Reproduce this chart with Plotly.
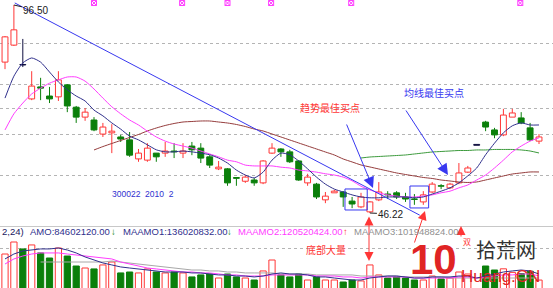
import plotly.graph_objects as go

W, H = 553, 288

# ---------------- data ----------------
idx = list(range(61))
opens = [82.7, 86.8, 82.1, 73.8, 76.7, 74.5, 74.3, 77.2, 71.8, 69.4,
         68.7, 65.3, 65.6, 64.6, 63.9, 59.3, 59.0, 60.7, 60.7, 61.2,
         60.7, 62.4, 61.9, 59.8, 56.9, 56.9, 54.8, 53.9, 54.2, 53.5,
         60.7, 61.7, 61.0, 58.8, 53.5, 53.2, 49.4, 51.1, 51.3, 49.1,
         47.7, 46.5, 49.4, 50.8, 51.1, 50.1, 49.6, 48.9, 51.3, 52.8,
         52.3, 53.5, 56.1, 62.8, 68.2, 66.3, 65.1, 69.4, 69.2, 66.8, 63.6]
highs = [89.0, 96.5, 88.3, 80.5, 78.9, 76.7, 80.5, 77.4, 72.1, 71.6,
         69.4, 68.0, 67.7, 65.1, 65.8, 61.7, 63.1, 60.7, 63.4, 63.1,
         63.1, 63.4, 63.1, 60.2, 58.8, 57.1, 54.8, 55.4, 54.7, 59.0,
         63.1, 61.9, 61.5, 59.0, 55.7, 53.5, 51.3, 51.8, 51.5, 50.1,
         51.1, 49.1, 53.7, 51.5, 51.5, 51.1, 50.8, 51.5, 53.7, 53.2,
         53.5, 58.3, 57.6, 62.8, 68.5, 66.8, 71.4, 71.4, 70.6, 68.0, 65.3]
lows = [81.0, 86.6, 81.5, 73.5, 73.5, 72.8, 73.3, 70.6, 68.0, 68.5,
        66.0, 64.6, 60.7, 63.4, 59.8, 58.6, 58.6, 58.6, 59.8, 59.5,
        59.5, 60.2, 58.3, 57.1, 56.6, 52.8, 52.8, 53.5, 52.8, 53.2,
        60.5, 59.8, 58.3, 54.0, 52.8, 49.6, 48.6, 51.1, 47.7, 47.4,
        47.4, 46.22, 49.1, 49.6, 49.6, 48.9, 48.2, 48.2, 51.1, 52.0,
        52.0, 53.2, 55.9, 62.6, 66.0, 64.3, 64.8, 69.4, 67.7, 63.6, 62.9]
closes = [88.8, 90.5, 82.0, 76.9, 76.4, 73.8, 78.4, 72.1, 69.4, 70.6,
          66.3, 67.0, 66.0, 64.1, 60.2, 60.7, 61.9, 59.8, 61.2, 61.0,
          61.2, 61.5, 59.5, 57.8, 57.3, 53.5, 54.6, 54.9, 53.5, 58.8,
          61.9, 61.0, 58.6, 54.2, 54.9, 50.1, 50.3, 51.5, 50.1, 48.4,
          50.1, 48.9, 51.3, 50.6, 50.1, 49.6, 49.5, 50.6, 53.2, 52.7,
          53.2, 55.9, 57.1, 62.6, 67.0, 65.1, 69.9, 70.4, 68.0, 63.9, 64.6]
dark_candles = [2, 53]

ma5 = [74.0, 79.3, 82.5, 83.7, 82.7, 80.3, 77.9, 76.0, 74.5, 73.3,
       71.1, 69.7, 68.0, 66.5, 64.8, 63.9, 62.7, 61.5, 61.0, 61.0,
       61.2, 61.0, 60.7, 60.3, 59.5, 58.3, 56.6, 55.4, 54.7, 56.1,
       59.0, 60.7, 60.3, 58.8, 56.9, 54.9, 53.2, 52.0, 51.3, 50.6,
       50.1, 49.9, 49.9, 50.1, 50.1, 50.1, 49.9, 50.1, 50.8, 51.5,
       52.3, 53.5, 55.2, 57.1, 60.3, 63.1, 65.6, 67.3, 68.0, 67.5, 67.5]
ma10 = [66.3, 70.2, 72.8, 75.0, 76.4, 77.6, 78.4, 79.1, 79.1, 78.1,
        76.2, 74.0, 71.9, 70.2, 68.7, 67.5, 66.0, 64.6, 63.6, 62.9,
        62.4, 61.9, 61.2, 60.5, 59.8, 59.0, 58.6, 57.8, 57.6, 57.6,
        57.6, 57.3, 57.1, 56.6, 56.4, 56.1, 55.7, 55.4, 54.9, 54.0,
        52.7, 51.8, 51.1, 50.6, 50.3, 50.1, 50.1, 50.3, 50.6, 51.1,
        51.5, 52.3, 53.0, 54.2, 55.4, 57.1, 59.0, 61.0, 62.4, 63.6, 64.4]
ma_long = [None] * 10 + [
    61.46, 62.28, 63.03, 63.75, 64.48, 65.20, 66.05, 66.77, 67.38, 67.86,
    68.22, 68.34, 68.46, 68.46, 68.22, 67.98, 67.62, 67.13, 66.53, 66.05,
    65.32, 64.60, 63.87, 63.15, 62.42, 61.70, 60.97, 60.25, 59.28, 58.56,
    57.83, 57.35, 56.86, 56.38, 55.90, 55.53, 55.17, 54.81, 54.57, 54.20,
    53.96, 53.72, 53.60, 53.72, 54.20, 54.69, 55.17, 55.65, 55.90, 56.14, 56.14]
ma_longer = [None] * 40 + [
    59.52, 59.76, 59.88, 60.00, 60.12, 60.25, 60.49, 60.73, 60.97, 61.09,
    61.21, 61.33, 61.33, 61.46, 61.46, 61.58, 61.58, 61.58, 61.46, 61.21, 60.73]

# turnover (million yuan)
amount = [306, 408, 349, 383, 315, 272, 357, 289, 204, 187,
          179, 213, 238, 145, 153, 145, 179, 153, 145, 153,
          145, 111, 128, 136, 102, 136, 111, 102, 85, 162,
          255, 128, 111, 136, 85, 111, 85, 85, 68, 85,
          77, 213, 128, 102, 111, 102, 85, 85, 119, 94,
          102, 153, 136, 0, 204, 170, 180, 150, 140, 160, 84.6]
maamo1 = [264, 306, 332, 340, 349, 349, 357, 340, 315, 281,
          255, 230, 213, 196, 187, 179, 170, 162, 153, 153,
          153, 145, 145, 136, 128, 128, 119, 119, 111, 119,
          136, 145, 136, 136, 128, 111, 111, 102, 94, 85,
          85, 102, 111, 119, 119, 111, 102, 102, 111, 111,
          111, 119, 119, 102, 119, 136, 153, 162, 170, 162, 136]
maamo2 = [221, 264, 289, 306, 315, 315, 315, 306, 298, 289,
          281, 272, 264, 238, 221, 204, 187, 179, 170, 162,
          153, 153, 145, 145, 136, 128, 128, 119, 119, 119,
          128, 128, 128, 128, 128, 119, 119, 119, 111, 111,
          102, 111, 111, 111, 111, 111, 102, 102, 102, 102,
          102, 111, 111, 102, 111, 119, 128, 128, 136, 136, 120.5]
maamo3 = [None] * 4 + [
    238, 238, 238, 238, 238, 238, 238, 238, 246, 238,
    230, 221, 213, 204, 196, 187, 179, 170, 170, 162,
    162, 153, 153, 145, 145, 145, 145, 136, 136, 136,
    136, 128, 128, 128, 128, 128, 119, 119, 119, 119,
    119, 111, 111, 111, 111, 111, 102, 102, 102, 102,
    102, 102, 102, 102, 102, 102, 101.9]

trend_x = [1.1, 46.6]
trend_y = [97.0, 45.7]
event_x = [10, 19.9, 25, 29.9, 38.9, 57.9]
event_y = [96.98] * 6
box1 = dict(x0=38.2, x1=40.7, y0=46.95, y1=52.03)
box2 = dict(x0=45.5, x1=47.6, y0=47.44, y1=52.75)

# ---------------- styles ----------------
RED = '#ff3636'
GREEN = '#0a7f0a'
NAVY = '#30308c'
MAG = '#ff3cff'
BROWN = '#953c3c'
LGREEN = '#3c9a3c'
BLUE = '#3838f0'
GRAY = '#a8a8a8'
LATIN = 'Liberation Sans, Arial, sans-serif'
CJK = 'Noto Sans CJK SC, sans-serif'


def px(x):
    return x / W


def py(y):
    return 1 - y / H


fig = go.Figure()

# wicks
wick = {'up': ([], []), 'down': ([], []), 'dark': ([], [])}
body = {'up': ([], [], []), 'down': ([], [], []), 'dark': ([], [], [])}
for i, o, h, l, c in zip(idx, opens, highs, lows, closes):
    kind = 'dark' if i in dark_candles else ('up' if c > o else 'down')
    top, bot = max(o, c), min(o, c)
    wx, wy = wick[kind]
    wx += [i, i, None, i, i, None]
    wy += [top, h, None, l, bot, None]
    bx, bb, bh = body[kind]
    bx.append(i)
    bb.append(bot)
    bh.append(max(top - bot, 0.12))

colors = {'up': RED, 'down': GREEN, 'dark': '#101040'}
for k in ['up', 'down', 'dark']:
    fig.add_trace(go.Scatter(x=wick[k][0], y=wick[k][1], mode='lines',
                             line=dict(color=colors[k], width=1),
                             hoverinfo='skip', showlegend=False,
                             xaxis='x', yaxis='y'))
for k in ['up', 'down', 'dark']:
    fill = 'white' if k == 'up' else colors[k]
    fig.add_trace(go.Bar(x=body[k][0], y=body[k][2], base=body[k][1],
                         width=0.66, marker=dict(color=fill,
                                                 line=dict(color=colors[k], width=1)),
                         showlegend=False, xaxis='x', yaxis='y'))

for series, col in [(ma_longer, LGREEN), (ma_long, BROWN), (ma10, MAG), (ma5, NAVY)]:
    fig.add_trace(go.Scatter(x=idx, y=series, mode='lines',
                             line=dict(color=col, width=1, shape='spline', smoothing=0.6),
                             showlegend=False, hoverinfo='skip', xaxis='x', yaxis='y'))

fig.add_trace(go.Scatter(x=trend_x, y=trend_y, mode='lines',
                         line=dict(color=BLUE, width=1), showlegend=False,
                         xaxis='x', yaxis='y'))
fig.add_trace(go.Scatter(x=event_x, y=event_y, mode='markers',
                         marker=dict(symbol='square-x-open', size=5, color=MAG,
                                     line=dict(width=1, color=MAG)),
                         showlegend=False, xaxis='x', yaxis='y'))

# volume bars
up_x, up_v, dn_x, dn_v = [], [], [], []
for i, o, c, v in zip(idx, opens, closes, amount):
    if c > o and i not in dark_candles:
        up_x.append(i); up_v.append(v)
    else:
        dn_x.append(i); dn_v.append(v)
fig.add_trace(go.Bar(x=up_x, y=up_v, width=0.7,
                     marker=dict(color='white', line=dict(color=RED, width=1)),
                     showlegend=False, xaxis='x2', yaxis='y2'))
fig.add_trace(go.Bar(x=dn_x, y=dn_v, width=0.7,
                     marker=dict(color=GREEN, line=dict(color=GREEN, width=1)),
                     showlegend=False, xaxis='x2', yaxis='y2'))
for series, col in [(maamo3, GRAY), (maamo2, MAG), (maamo1, NAVY)]:
    fig.add_trace(go.Scatter(x=idx, y=series, mode='lines',
                             line=dict(color=col, width=1),
                             showlegend=False, xaxis='x2', yaxis='y2'))

shapes = []
for b in (box1, box2):
    shapes.append(dict(type='rect', xref='x', yref='y', line=dict(color=BLUE, width=1),
                       fillcolor='rgba(0,0,0,0)', **b))
shapes.append(dict(type='line', xref='paper', yref='paper', x0=0, x1=1,
                   y0=py(226.5), y1=py(226.5), line=dict(color='#c8c8c8', width=1)))

ann = []


def text(x, y, s, color, size, font=LATIN, xanchor='center', **kw):
    ann.append(dict(x=px(x), y=py(y), xref='paper', yref='paper', text=s,
                    showarrow=False, xanchor=xanchor, yanchor='middle',
                    font=dict(family=font, size=size, color=color), **kw))


def arrow(hx, hy, tx, ty, color, side='end', size=2.2, head=2):
    ann.append(dict(x=px(hx), y=py(hy), xref='paper', yref='paper', text='',
                    showarrow=True, ax=tx - hx, ay=ty - hy, arrowhead=head,
                    startarrowhead=head, arrowside=side, arrowsize=size,
                    startarrowsize=size, arrowwidth=1, arrowcolor=color))


# price labels
ann.append(dict(x=1, y=96.5, xref='x', yref='y', text='96.50', showarrow=True,
                arrowhead=0, arrowwidth=1, arrowcolor='#202020', ax=22, ay=5,
                font=dict(family=LATIN, size=10, color='#202020')))
ann.append(dict(x=41, y=46.22, xref='x', yref='y', text='46.22', showarrow=True,
                arrowhead=0, arrowwidth=1, arrowcolor='#202020', ax=21, ay=1,
                font=dict(family=LATIN, size=10, color='#202020')))

text(143, 194, '300022  2010  2', '#3030d0', 8.5)
text(330, 107, '趋势最佳买点', RED, 10, CJK)
text(434, 92, '均线最佳买点', BLUE, 10, CJK)
text(326, 249, '底部大量', RED, 10, CJK)

arrow(373, 188, 346, 123, BLUE)
arrow(448, 175, 405, 109, BLUE)
arrow(369, 261, 369, 215, RED, side='end+start', size=1.8)
arrow(425, 211, 414, 244, RED, size=1.8)
arrow(461, 226, 461, 238, RED, size=1.8)

# indicator line
row_y = 231
text(0, row_y, '2,24)', '#202060', 9.5, xanchor='left')
text(28, row_y, 'AMO:84602120.00', NAVY, 9.5, xanchor='left')
text(109, row_y, '↓', GREEN, 9.5, xanchor='left')
text(121, row_y, 'MAAMO1:136020832.00', NAVY, 9.5, xanchor='left')
text(225, row_y, '↓', GREEN, 9.5, xanchor='left')
text(236, row_y, 'MAAMO2:120520424.00', MAG, 9.5, xanchor='left')
text(341, row_y, '↑', RED, 9.5, xanchor='left')
text(352, row_y, 'MAAMO3:101948824.00', '#909090', 9.5, xanchor='left')
text(457, row_y, '↑', RED, 9.5, xanchor='left')

# watermark logo
text(433, 259, '<b>10</b>', '#e02424', 42)
text(467, 241, '双', RED, 8, CJK)
text(506, 249, '拾荒网', '#333333', 20, CJK)
text(500, 276, 'Huang.CN', '#e02424', 17)

fig.update_layout(
    width=W, height=H, margin=dict(l=0, r=0, t=0, b=0),
    paper_bgcolor='white', plot_bgcolor='white', barmode='overlay',
    showlegend=False, shapes=shapes, annotations=ann,
    xaxis=dict(domain=[0, 1], range=[-0.562, 61.573], showgrid=False,
               zeroline=False, showticklabels=False, ticks='', anchor='y'),
    yaxis=dict(domain=[(H - 226) / H, 1], range=[43.08, 97.71],
               tickvals=[87.3, 77.4, 71.4, 65.3, 55.4], showticklabels=False,
               gridcolor='#b4b4b4', griddash='dot', gridwidth=1,
               zeroline=False, ticks='', anchor='x'),
    xaxis2=dict(domain=[0, 1], range=[-0.562, 61.573], showgrid=False,
                zeroline=False, showticklabels=False, ticks='', anchor='y2'),
    yaxis2=dict(domain=[0, (H - 239) / H], range=[17, 433.5],
                tickvals=[357], showticklabels=False, gridcolor='#b4b4b4',
                griddash='dot', zeroline=False, ticks='', anchor='x2'),
)

fig.write_html('out.html')
